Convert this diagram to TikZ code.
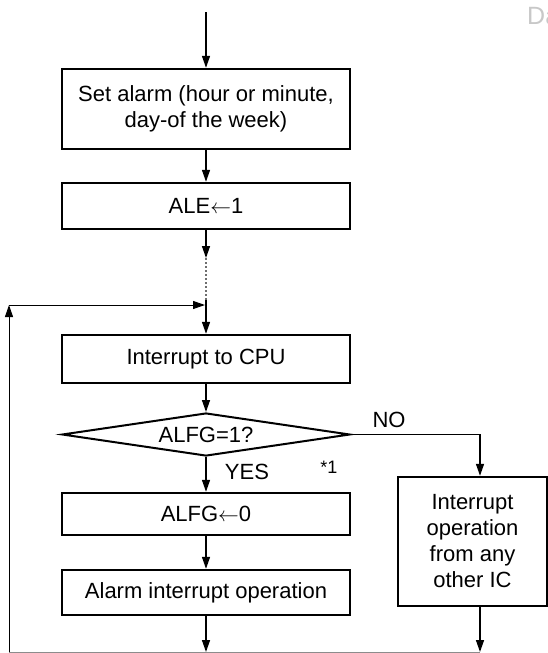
\documentclass[tikz,border=0pt]{standalone}
\usepackage{fontspec}
\setmainfont{Liberation Sans}
\usetikzlibrary{arrows.meta,shapes.geometric}
\definecolor{almInk}{HTML}{000000}
\definecolor{almGray}{HTML}{8C8C8C}
\definecolor{almDots}{HTML}{6E6E6E}
\definecolor{almPale}{HTML}{C8C8C8}
\tikzset{
  alm box/.style={draw=almInk, line width=2.4pt, minimum width=288pt, inner sep=0pt, align=center, font=\fontsize{22}{26}\selectfont},
  alm test/.style={diamond, aspect=6.7, draw=almInk, line width=2pt, minimum width=288pt, minimum height=43pt, inner sep=0pt, font=\fontsize{22}{26}\selectfont},
  alm flow/.style={draw=almInk, line width=1.4pt, -{Triangle[length=12pt,width=8pt]}},
  alm dots/.style={draw=almDots, line width=1.6pt, dash pattern=on 2pt off 2pt},
  alm loop/.style={draw=almInk, line width=1pt, -{Triangle[length=12pt,width=8pt]}},
  alm base/.style={draw=almGray, line width=1pt},
  alm label/.style={font=\fontsize{22}{26}\selectfont, inner sep=0pt},
  alm note/.style={font=\fontsize{18}{20}\selectfont, inner sep=0pt},
}

\begin{document}
\begin{tikzpicture}[x=1pt,y=-1pt]
  \useasboundingbox (0,0) rectangle (548,653);
  \node[font=\fontsize{25}{28}\selectfont, text=almPale, anchor=west, inner sep=0pt] (mark) at (527,16) {Da};

  % main column
  \node[alm box, minimum height=80pt] (set) at (206,109) {Set alarm (hour or minute,\\day-of the week)};
  \node[alm box, minimum height=46pt] (ale) at (206,206) {ALE$\leftarrow$1};
  \node[alm box, minimum height=48pt] (cpu) at (206,359) {Interrupt to CPU};
  \node[alm test] (test) at (206,434.5) {ALFG=1?};
  \node[alm box, minimum height=42pt] (alfg) at (206,514) {ALFG$\leftarrow$0};
  \node[alm box, minimum height=45pt] (alarm) at (206,592.5) {Alarm interrupt operation};
  \node[alm box, minimum width=149pt, minimum height=129pt] (other) at (472.5,541.5) {Interrupt\\operation\\from any\\other IC};

  \node[alm label] (yes) at (247,472) {YES};
  \node[alm note] (star) at (329,467) {*1};
  \node[alm label] (no) at (389,420) {NO};

  \coordinate (start) at (206,12);
  \coordinate (dotA) at (206,258);
  \coordinate (dotB) at (206,300);
  \coordinate (join) at (205,305);
  \coordinate (loopTop) at (9,305);
  \coordinate (loopBot) at (9,652);
  \coordinate (noTop) at (480,434.5);
  \coordinate (noBot) at (480,652);

  \draw[alm flow] (start) -- (set.north);
  \draw[alm flow] (set.south) -- (ale.north);
  \draw[alm flow] (ale.south) -- (dotA);
  \draw[alm dots] (dotA) -- (dotB);
  \draw[alm flow] (dotB) -- (cpu.north);
  \draw[alm flow] (cpu.south) -- (test.north);
  \draw[alm flow] (test.south) -- (alfg.north);
  \draw[alm flow] (alfg.south) -- (alarm.north);
  \draw[alm flow] (alarm.south) -- (alarm.south |- loopBot);

  % NO branch
  \draw[alm flow] (test.east) -- (noTop) -- (noTop |- other.north);
  \draw[alm flow] (other.south -| noBot) -- (noBot);

  % return loop
  \draw[alm base] (loopBot) -- (noBot);
  \draw[alm loop] (loopBot) -- (loopTop);
  \draw[alm loop] (loopTop) -- (join);
\end{tikzpicture}
\end{document}
